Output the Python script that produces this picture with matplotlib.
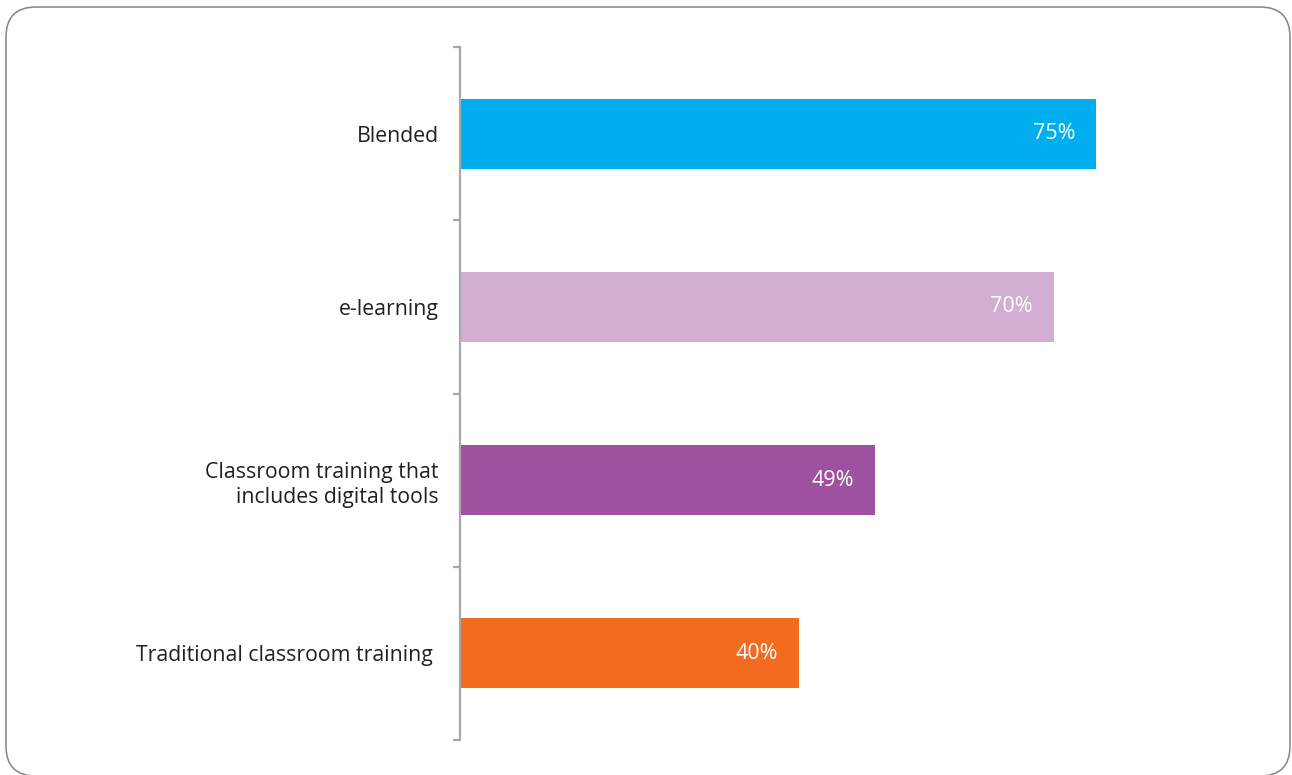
import matplotlib
matplotlib.use("Agg")
import matplotlib.pyplot as plt
from matplotlib.patches import FancyBboxPatch
from matplotlib.transforms import IdentityTransform
import numpy as np

categories = ["Blended", "e-learning", "Classroom training that\nincludes digital tools",
              "Traditional classroom training "]
values = [75, 70, 49, 40]
value_labels = ["75%", "70%", "49%", "40%"]
colors = ["#00adef", "#d1aed2", "#9e519f", "#f26b21"]

plt.rcParams['font.family'] = ['Open Sans', 'DejaVu Sans']

W, H = 1292, 775
fig = plt.figure(figsize=(W / 100, H / 100), dpi=100)
fig.patch.set_facecolor("white")

# rounded frame (pixel coords)
frame = FancyBboxPatch((6 + 30, -1 + 30), 1284 - 60, 769 - 60,
                       boxstyle="round,pad=30", transform=IdentityTransform(),
                       facecolor="none", edgecolor="#858585", linewidth=1.1,
                       figure=fig)
fig.patches.append(frame)

px_per_pct = 636.5 / 75.0
ax_left_px, ax_right_px = 459.5, 1200
ax_top_px, ax_bot_px = 47, 740
ax = fig.add_axes([ax_left_px / W, 1 - ax_bot_px / H,
                   (ax_right_px - ax_left_px) / W, (ax_bot_px - ax_top_px) / H])
ax.set_xlim(0, (ax_right_px - ax_left_px) / px_per_pct)
ax.set_ylim(len(categories) - 0.5, -0.5)

y = np.arange(len(categories))
ax.barh(y, values, height=70 / 173, color=colors, zorder=2)

for yi, v, lab in zip(y, values, value_labels):
    ax.text(v - 21 / px_per_pct, yi, lab, ha="right", va="center",
            color="white", fontsize=15.5)

for s in ["top", "right", "bottom"]:
    ax.spines[s].set_visible(False)
ax.spines["left"].set_color("#a6a8ab")
ax.spines["left"].set_linewidth(1.6)
ax.spines["left"].set_zorder(3)

ax.set_xticks([])
ax.set_yticks(y)
labels = ax.set_yticklabels(categories, fontsize=15.3, color="#231f20")
for t in labels:
    t.set_linespacing(1.25)
ax.tick_params(axis="y", which="major", length=0, pad=15)
ax.set_yticks(np.arange(-0.5, len(categories), 1.0), minor=True)
ax.tick_params(axis="y", which="minor", length=5, width=1.6, color="#a6a8ab",
               direction="out")
ax.patch.set_visible(False)

fig.savefig("out.png", dpi=100)
